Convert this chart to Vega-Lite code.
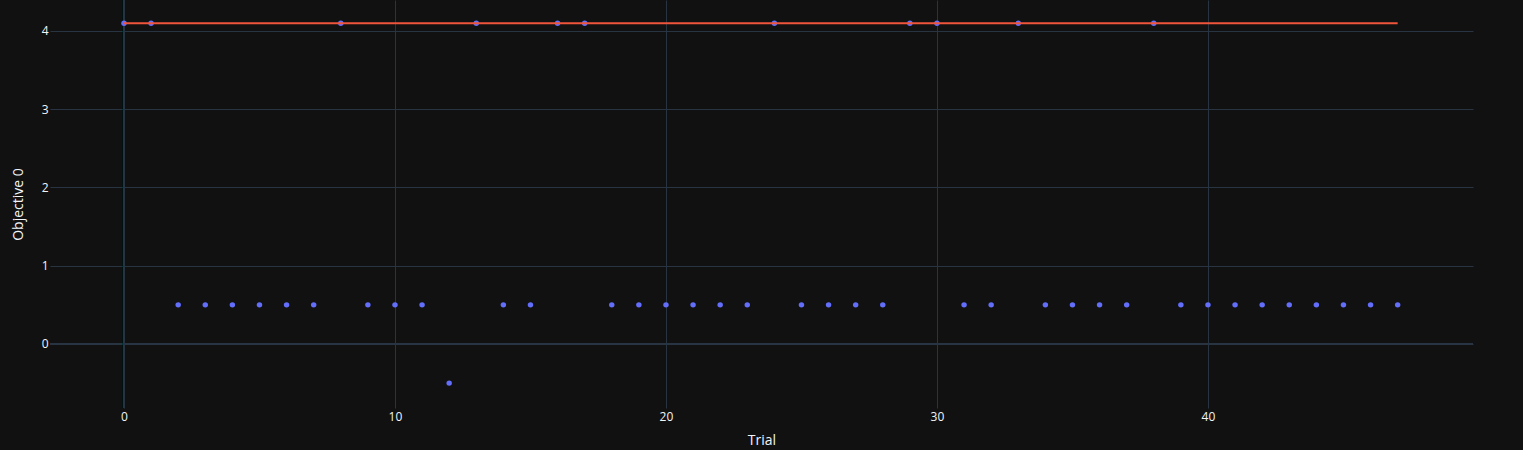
{
  "$schema": "https://vega.github.io/schema/vega-lite/v6.json",
  "width": 1423,
  "height": 408,
  "autosize": {"type": "none"},
  "padding": {"left": 50, "top": 0, "right": 50, "bottom": 42},
  "background": "#111111",
  "config": {
    "view": {"stroke": null},
    "font": "Open Sans",
    "axis": {
      "grid": true,
      "gridColor": "#283442",
      "gridOpacity": 1,
      "gridWidth": 1,
      "domain": false,
      "ticks": false,
      "labelColor": "#f2f5fa",
      "labelFont": "Open Sans",
      "labelFontSize": 12,
      "titleColor": "#f2f5fa",
      "titleFont": "Open Sans",
      "titleFontSize": 14,
      "titleFontWeight": "normal"
    }
  },
  "data": {
    "values": [
      {"trial": 0, "value": 4.1, "best": 4.1},
      {"trial": 1, "value": 4.1, "best": 4.1},
      {"trial": 2, "value": 0.5, "best": 4.1},
      {"trial": 3, "value": 0.5, "best": 4.1},
      {"trial": 4, "value": 0.5, "best": 4.1},
      {"trial": 5, "value": 0.5, "best": 4.1},
      {"trial": 6, "value": 0.5, "best": 4.1},
      {"trial": 7, "value": 0.5, "best": 4.1},
      {"trial": 8, "value": 4.1, "best": 4.1},
      {"trial": 9, "value": 0.5, "best": 4.1},
      {"trial": 10, "value": 0.5, "best": 4.1},
      {"trial": 11, "value": 0.5, "best": 4.1},
      {"trial": 12, "value": -0.5, "best": 4.1},
      {"trial": 13, "value": 4.1, "best": 4.1},
      {"trial": 14, "value": 0.5, "best": 4.1},
      {"trial": 15, "value": 0.5, "best": 4.1},
      {"trial": 16, "value": 4.1, "best": 4.1},
      {"trial": 17, "value": 4.1, "best": 4.1},
      {"trial": 18, "value": 0.5, "best": 4.1},
      {"trial": 19, "value": 0.5, "best": 4.1},
      {"trial": 20, "value": 0.5, "best": 4.1},
      {"trial": 21, "value": 0.5, "best": 4.1},
      {"trial": 22, "value": 0.5, "best": 4.1},
      {"trial": 23, "value": 0.5, "best": 4.1},
      {"trial": 24, "value": 4.1, "best": 4.1},
      {"trial": 25, "value": 0.5, "best": 4.1},
      {"trial": 26, "value": 0.5, "best": 4.1},
      {"trial": 27, "value": 0.5, "best": 4.1},
      {"trial": 28, "value": 0.5, "best": 4.1},
      {"trial": 29, "value": 4.1, "best": 4.1},
      {"trial": 30, "value": 4.1, "best": 4.1},
      {"trial": 31, "value": 0.5, "best": 4.1},
      {"trial": 32, "value": 0.5, "best": 4.1},
      {"trial": 33, "value": 4.1, "best": 4.1},
      {"trial": 34, "value": 0.5, "best": 4.1},
      {"trial": 35, "value": 0.5, "best": 4.1},
      {"trial": 36, "value": 0.5, "best": 4.1},
      {"trial": 37, "value": 0.5, "best": 4.1},
      {"trial": 38, "value": 4.1, "best": 4.1},
      {"trial": 39, "value": 0.5, "best": 4.1},
      {"trial": 40, "value": 0.5, "best": 4.1},
      {"trial": 41, "value": 0.5, "best": 4.1},
      {"trial": 42, "value": 0.5, "best": 4.1},
      {"trial": 43, "value": 0.5, "best": 4.1},
      {"trial": 44, "value": 0.5, "best": 4.1},
      {"trial": 45, "value": 0.5, "best": 4.1},
      {"trial": 46, "value": 0.5, "best": 4.1},
      {"trial": 47, "value": 0.5, "best": 4.1}
    ]
  },
  "layer": [
    {
      "mark": {"type": "rule", "color": "#283442", "strokeWidth": 2},
      "encoding": {
        "y": {"datum": 0, "type": "quantitative", "scale": {"domain": [-0.818, 4.396], "nice": false, "zero": false},
          "axis": {"values": [0, 1, 2, 3, 4], "format": "d", "grid": true, "title": "Objective 0", "labelPadding": 2, "titleX": -32, "titleY": 204, "titleAngle": -90, "titleBaseline": "middle", "titleAlign": "center"}}
      }
    },
    {
      "mark": {"type": "rule", "color": "#283442", "strokeWidth": 2},
      "encoding": {
        "x": {"datum": 0, "type": "quantitative", "scale": {"domain": [-2.73, 49.78], "nice": false, "zero": false},
          "axis": {"values": [0, 10, 20, 30, 40], "format": "d", "grid": true, "title": "Trial", "labelPadding": 3, "titleX": 711.5, "titleY": 32, "titleBaseline": "middle", "titleAlign": "center"}}
      }
    },
    {
      "mark": {"type": "point", "filled": true, "opacity": 1, "color": "#636efa", "size": 30},
      "encoding": {
        "x": {"field": "trial", "type": "quantitative"},
        "y": {"field": "value", "type": "quantitative"}
      }
    },
    {
      "mark": {"type": "line", "color": "#ef553b", "strokeWidth": 2},
      "encoding": {
        "x": {"field": "trial", "type": "quantitative"},
        "y": {"field": "best", "type": "quantitative"}
      }
    }
  ]
}
